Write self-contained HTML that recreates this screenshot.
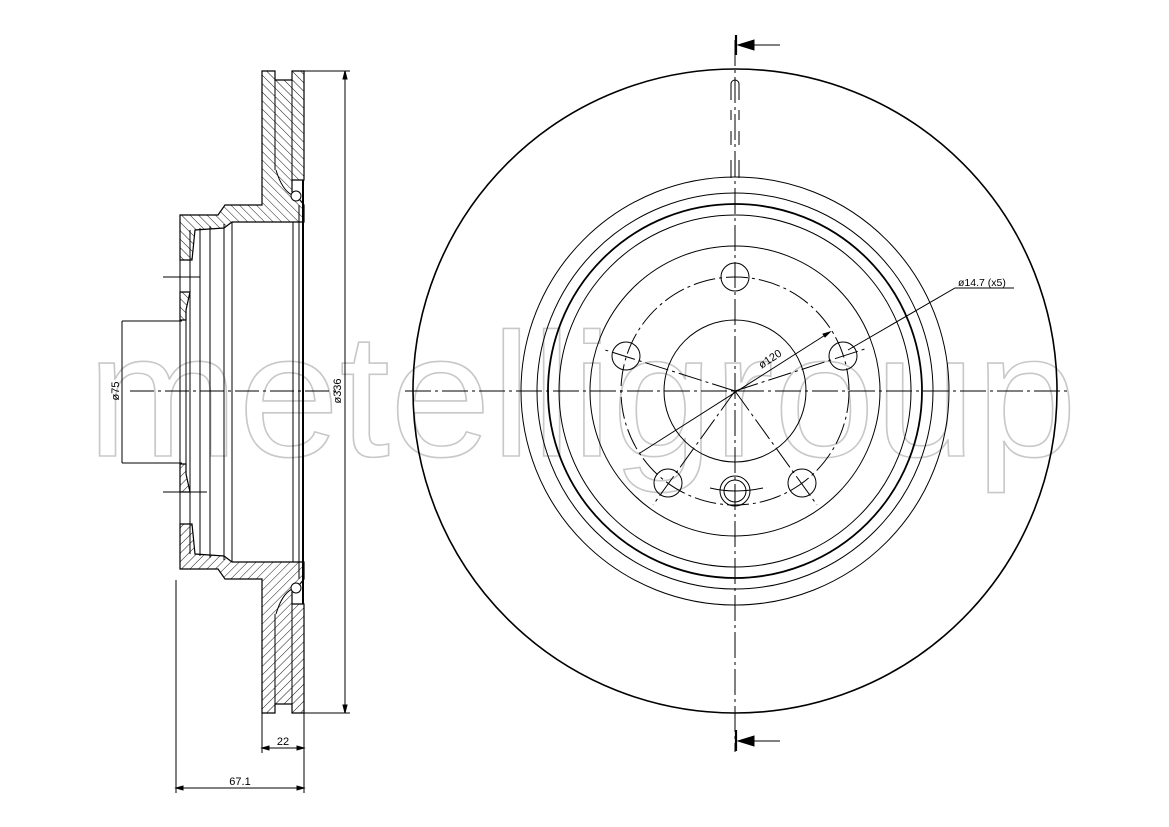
<!DOCTYPE html>
<html><head><meta charset="utf-8"><style>html,body{margin:0;padding:0;background:#fff}svg{display:block}</style></head>
<body>
<svg width="1169" height="827" viewBox="0 0 1169 827" xmlns="http://www.w3.org/2000/svg" font-family="Liberation Sans, sans-serif">
<defs>
<pattern id="h" width="6" height="6" patternUnits="userSpaceOnUse" patternTransform="rotate(-45)">
<line x1="0" y1="0" x2="0" y2="6" stroke="#000" stroke-width="0.9"/>
</pattern>
</defs>
<rect width="1169" height="827" fill="#fff"/>
<!-- watermark -->
<text x="87" y="456" font-size="176" textLength="990" lengthAdjust="spacingAndGlyphs" fill="none" stroke="#c8c8c8" stroke-width="1.6">metelligroup</text>

<g stroke="#000" fill="none" stroke-width="1">
<!-- ===== SECTION VIEW ===== -->
<g id="half">
<path d="M262,71 L275,71 L275,80 L292,80 L292,71 L304,71 L304,180 L292,180 L292,192 L300,200 L304,205 L304,222 L290,222 L232,222 L224,228 L195,230 L192,260 L180,260 L180,215 L218,215 L225,205 L262,205 L262,180 Z" fill="url(#h)" stroke-width="1.2"/>
<line x1="275" y1="80" x2="275" y2="170"/>
<line x1="292" y1="80" x2="292" y2="180"/>
<path d="M276,170 Q282,190 292,195" />
<circle cx="296" cy="196" r="5" fill="#fff"/>
<path d="M180,292 L190,292 L186,310 L186,320 L180,320 Z" fill="url(#h)" stroke-width="1.2"/>
</g>
<use href="#half" transform="translate(0,784) scale(1,-1)"/>
<line x1="190" y1="230" x2="190" y2="554"/>
<line x1="200" y1="228" x2="200" y2="556"/>
<line x1="210" y1="226" x2="210" y2="558"/>
<line x1="224" y1="224" x2="224" y2="560"/>
<line x1="232" y1="222" x2="232" y2="562"/>
<line x1="293" y1="222" x2="293" y2="562"/>
<line x1="299" y1="205" x2="299" y2="579"/>
<line x1="303" y1="180" x2="303" y2="604" stroke-width="2"/>
<line x1="180" y1="260" x2="180" y2="524"/>
<line x1="186" y1="320" x2="186" y2="464"/>
<line x1="163" y1="277" x2="200" y2="277"/>
<line x1="163" y1="492" x2="207" y2="492"/>
<line x1="304" y1="71" x2="350" y2="71"/>
<line x1="304" y1="713" x2="350" y2="713"/>
<line x1="345" y1="71" x2="345" y2="713"/>
<path d="M345,71 l-2,8 h4 z M345,713 l-2,-8 h4 z" fill="#000"/>
<text x="0" y="0" transform="translate(341,391) rotate(-90)" font-size="11" text-anchor="middle" fill="#000" stroke="none">ø336</text>
<line x1="122" y1="321" x2="182" y2="321"/>
<line x1="122" y1="463" x2="182" y2="463"/>
<line x1="122" y1="321" x2="122" y2="463"/>
<text x="0" y="0" transform="translate(119,391) rotate(-90)" font-size="11" text-anchor="middle" fill="#000" stroke="none">ø75</text>
<line x1="130" y1="391" x2="340" y2="391" stroke-dasharray="24,4,3,4"/>
<line x1="176" y1="580" x2="176" y2="793"/>
<line x1="262" y1="713" x2="262" y2="753"/>
<line x1="304" y1="713" x2="304" y2="793"/>
<line x1="262" y1="748" x2="304" y2="748"/>
<line x1="176" y1="788" x2="304" y2="788"/>
<path d="M262,748 l7,-2 v4 z M304,748 l-7,-2 v4 z M176,788 l7,-2 v4 z M304,788 l-7,-2 v4 z" fill="#000"/>
<text x="283" y="745" font-size="11" text-anchor="middle" fill="#000" stroke="none">22</text>
<text x="240" y="785" font-size="11" text-anchor="middle" fill="#000" stroke="none">67.1</text>

<!-- ===== FRONT VIEW ===== -->
<circle cx="735" cy="391" r="322" stroke-width="1.6"/>
<circle cx="735" cy="391" r="214"/>
<circle cx="735" cy="391" r="198"/>
<circle cx="735" cy="391" r="187" stroke-width="1.8"/>
<circle cx="735" cy="391" r="176"/>
<circle cx="735" cy="391" r="145"/>
<circle cx="735" cy="391" r="114" stroke-dasharray="22,4,3,4"/>
<circle cx="735" cy="391" r="71"/>
<circle cx="735" cy="277" r="14"/>
<circle cx="626" cy="356" r="14"/>
<circle cx="843" cy="356" r="14"/>
<circle cx="668" cy="483" r="14"/>
<circle cx="802" cy="483" r="14"/>
<circle cx="735" cy="491" r="15"/>
<circle cx="735" cy="491" r="11"/>
<path d="M710,488 Q735,494 763,488"/>
<line x1="735" y1="40" x2="735" y2="752" stroke-dasharray="26,4,3,4"/>
<line x1="405" y1="391" x2="1068" y2="391" stroke-dasharray="26,4,3,4"/>
<line x1="735" y1="391" x2="602" y2="349" stroke-dasharray="24,4,3,4"/>
<line x1="735" y1="391" x2="868" y2="348" stroke-dasharray="24,4,3,4"/>
<line x1="735" y1="391" x2="653" y2="505" stroke-dasharray="24,4,3,4"/>
<line x1="735" y1="391" x2="817" y2="505" stroke-dasharray="24,4,3,4"/>
<line x1="640" y1="453" x2="830" y2="332"/>
<path d="M830,332 l-7,2 l2,3 z" fill="#000"/>
<text x="0" y="0" transform="translate(772,362) rotate(-33)" font-size="11" text-anchor="middle" fill="#000" stroke="none">ø120</text>
<polyline points="848,350 955,288 1014,288"/>
<text x="958" y="286" font-size="10.5" fill="#000" stroke="none">ø14.7 (x5)</text>
<path d="M731,100 V84 A4,4 0 0 1 739,84 V100"/>
<line x1="731" y1="110" x2="731" y2="120"/><line x1="739" y1="110" x2="739" y2="120"/>
<line x1="731" y1="131" x2="731" y2="145"/><line x1="739" y1="131" x2="739" y2="145"/>
<line x1="731" y1="160" x2="731" y2="178"/><line x1="739" y1="160" x2="739" y2="178"/>
<line x1="736" y1="35" x2="736" y2="55" stroke-width="2.2"/>
<line x1="750" y1="45" x2="780" y2="45"/>
<path d="M738,45 L754,40 L754,50 Z" fill="#000"/>
<line x1="736" y1="730" x2="736" y2="751" stroke-width="2.2"/>
<line x1="750" y1="741" x2="780" y2="741"/>
<path d="M738,741 L754,736 L754,746 Z" fill="#000"/>
</g>
</svg>
</body></html>
